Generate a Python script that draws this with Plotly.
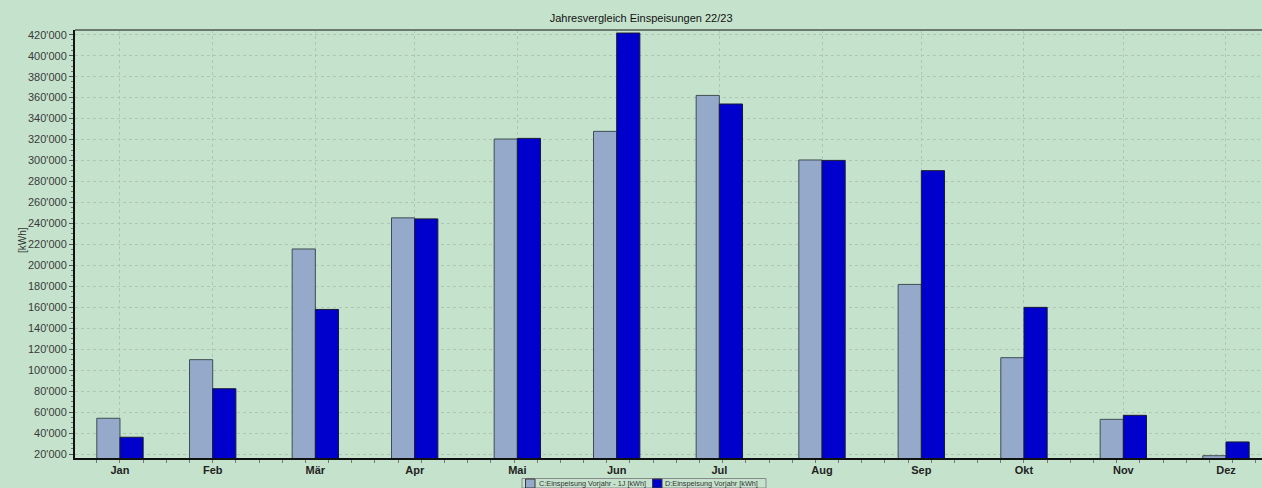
import plotly.graph_objects as go

months = ["Jan", "Feb", "Mär", "Apr", "Mai", "Jun", "Jul", "Aug", "Sep", "Okt", "Nov", "Dez"]
month_dates = ["2023-01-31", "2023-02-28", "2023-03-31", "2023-04-30", "2023-05-31", "2023-06-30",
               "2023-07-31", "2023-08-31", "2023-09-30", "2023-10-31", "2023-11-30", "2023-12-31"]
prev_year_1 = [54100, 110000, 215600, 245300, 320500, 327800, 362100, 300500, 181800, 111900, 53100, 18400]
prev_year = [36000, 82300, 157900, 244300, 321100, 421600, 353900, 300100, 290300, 159900, 56900, 31500]

name_c = "C:Einspeisung Vorjahr - 1J [kWh]"
name_d = "D:Einspeisung Vorjahr [kWh]"
color_c = "#95A9CB"
color_d = "#0000CC"

bg = "#C5E3CC"
grid = "#AFC6B3"
font_fam = "Liberation Sans, Arial, sans-serif"

W, H = 1262, 488
ML, MR, MT, MB = 75, 0, 30, 30
PW, PH = W - ML - MR, H - MT - MB


def px(xp):
    return (xp - ML) / PW


def py(yp):
    return (H - MB - yp) / PH


fig = go.Figure()
fig.add_trace(go.Bar(x=month_dates, y=prev_year_1, name=name_c,
                     marker=dict(color=color_c, line=dict(color="#3E4E52", width=1))))
fig.add_trace(go.Bar(x=month_dates, y=prev_year, name=name_d,
                     marker=dict(color=color_d, line=dict(color="#1A1A33", width=1))))

fig.update_layout(
    width=W, height=H,
    margin=dict(l=ML, r=MR, t=MT, b=MB, autoexpand=False),
    paper_bgcolor=bg, plot_bgcolor=bg,
    barmode="group", bargap=0.5, bargroupgap=0,
    separators=".'",
    font=dict(family=font_fam, size=11, color="#333333"),
    title=dict(text="Jahresvergleich Einspeisungen 22/23", x=0.508, xref="container", xanchor="center",
               y=0.962, yref="container", yanchor="middle",
               font=dict(size=11, color="#111111", family=font_fam)),
    showlegend=False,
    xaxis=dict(type="date", range=["2023-01-17 10:00", "2024-01-10 21:00"],
               tickvals=month_dates, ticktext=months,
               tickfont=dict(size=11, color="#222222", family=font_fam, weight="bold"),
               showgrid=True, gridcolor=grid, griddash="dot", gridwidth=1,
               showline=True, linecolor="#111111", linewidth=2,
               ticks="", ticklabelstandoff=1,
               minor=dict(ticks="outside", ticklen=3, tickcolor="#777777", dtick=7 * 86400000,
                          tick0="2023-01-31", showgrid=False),
               zeroline=False, fixedrange=True, automargin=False),
    yaxis=dict(range=[16200, 424500], tickvals=list(range(20000, 420001, 20000)),
               tickformat=",d", tickfont=dict(size=11, color="#3A3A3A"),
               showgrid=True, gridcolor=grid, griddash="dot", gridwidth=1,
               showline=True, linecolor="#111111", linewidth=2,
               ticks="outside", ticklen=4, tickcolor="#555555",
               minor=dict(ticks="outside", ticklen=2, tickcolor="#777777", dtick=5000, showgrid=False),
               zeroline=False, fixedrange=True, automargin=False),
)

# top frame line
fig.add_shape(type="line", xref="paper", yref="paper", x0=0, x1=1, y0=1, y1=1,
              line=dict(color="#6E7A70", width=2))

# y axis title
fig.add_annotation(text="[kWh]", xref="paper", yref="paper", x=px(22), y=py(240),
                   textangle=-90, showarrow=False, xanchor="center", yanchor="middle",
                   font=dict(size=10, color="#333333"))

# legend (drawn manually to match the compact legend box)
fig.add_shape(type="rect", xref="paper", yref="paper", x0=px(522), x1=px(766), y0=py(478.5), y1=py(488),
              line=dict(color="#8A8A8A", width=1), fillcolor=bg, layer="above")
legend_items = [(name_c, color_c, 525.5, 536.5), (name_d, color_d, 652.5, 663)]
for label, col, sx, tx in legend_items:
    fig.add_shape(type="rect", xref="paper", yref="paper", x0=px(sx), x1=px(sx + 9.5),
                  y0=py(479), y1=py(488), line=dict(color="#3A3A3A", width=1), fillcolor=col, layer="above")
    fig.add_annotation(text=label, xref="paper", yref="paper", x=px(tx), y=py(483.5),
                       xanchor="left", yanchor="middle", showarrow=False,
                       font=dict(size=7.3, color="#333333", family=font_fam))

fig.write_html("out.html")
